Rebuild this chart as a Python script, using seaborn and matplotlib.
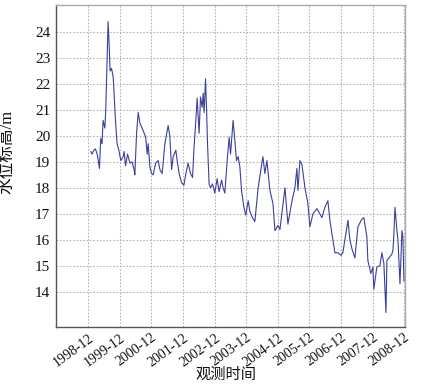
import matplotlib
matplotlib.use("Agg")
import matplotlib.pyplot as plt
import seaborn as sns
import pandas as pd

dates = [
    "1999-01-01", "1999-01-16", "1999-02-05", "1999-02-24", "1999-03-19", "1999-04-11",
    "1999-04-26", "1999-05-11", "1999-05-23", "1999-06-12", "1999-06-23", "1999-07-08",
    "1999-07-20", "1999-07-31", "1999-08-12", "1999-08-28", "1999-09-16", "1999-09-27",
    "1999-10-13", "1999-11-01", "1999-11-21", "1999-12-14", "2000-01-10", "2000-01-21",
    "2000-02-06", "2000-03-01", "2000-03-28", "2000-04-23", "2000-05-16", "2000-05-24",
    "2000-06-13", "2000-07-02", "2000-07-21", "2000-08-29", "2000-09-26", "2000-10-14",
    "2000-10-25", "2000-11-14", "2000-12-03", "2000-12-22", "2001-01-19", "2001-02-18",
    "2001-03-10", "2001-04-05", "2001-05-06", "2001-06-13", "2001-07-02", "2001-07-23",
    "2001-08-10", "2001-09-10", "2001-09-25", "2001-10-18", "2001-11-15", "2001-12-12",
    "2002-01-04", "2002-01-30", "2002-02-27", "2002-03-22", "2002-04-06", "2002-04-29",
    "2002-05-14", "2002-06-06", "2002-06-22", "2002-07-11", "2002-07-23", "2002-08-03",
    "2002-08-19", "2002-08-31", "2002-09-11", "2002-09-29", "2002-10-15", "2002-11-08",
    "2002-12-04", "2002-12-31", "2003-01-23", "2003-02-20", "2003-03-10", "2003-03-30",
    "2003-04-26", "2003-05-19", "2003-06-04", "2003-07-04", "2003-07-24", "2003-08-12",
    "2003-08-31", "2003-09-20", "2003-10-09", "2003-11-05", "2003-11-28", "2003-12-25",
    "2004-01-13", "2004-02-13", "2004-03-11", "2004-04-18", "2004-06-12", "2004-07-05",
    "2004-07-28", "2004-09-01", "2004-10-06", "2004-10-29", "2004-12-03", "2004-12-26",
    "2005-02-22", "2005-03-28", "2005-05-14", "2005-06-17", "2005-07-10", "2005-07-22",
    "2005-08-14", "2005-09-06", "2005-10-11", "2005-11-14", "2005-12-07", "2006-01-11",
    "2006-02-26", "2006-04-25", "2006-05-29", "2006-07-03", "2006-07-26", "2006-08-18",
    "2006-09-22", "2006-10-27", "2006-11-30", "2006-12-23", "2007-01-16", "2007-02-20",
    "2007-03-14", "2007-04-07", "2007-05-11", "2007-06-15", "2007-07-31", "2007-08-23",
    "2007-09-27", "2007-10-08", "2007-11-12", "2007-12-05", "2007-12-16", "2008-01-20",
    "2008-02-24", "2008-03-18", "2008-04-10", "2008-05-04", "2008-05-15", "2008-06-07",
    "2008-07-12", "2008-07-24", "2008-08-04", "2008-08-16", "2008-09-08", "2008-09-20",
    "2008-10-13", "2008-11-05", "2008-11-16", "2008-11-28",
]
levels = [
    19.4, 19.3, 19.45, 19.5, 19.25, 18.75,
    19.9, 19.7, 20.6, 20.3, 21.0, 22.9,
    24.4, 23.6, 22.5, 22.6, 22.3, 21.65,
    20.6, 19.7, 19.45, 19.05, 19.2, 19.4,
    18.85, 19.3, 18.95, 19.0, 18.7, 18.5,
    20.1, 20.9, 20.5, 20.2, 19.95, 19.3,
    19.7, 18.8, 18.55, 18.5, 18.95, 19.05,
    18.7, 18.55, 19.7, 20.4, 20.0, 18.7,
    19.2, 19.45, 19.05, 18.55, 18.2, 18.1,
    18.55, 18.95, 18.55, 18.4, 19.45, 20.6,
    21.45, 20.1, 21.5, 21.1, 21.65, 20.9,
    22.2, 21.0, 19.7, 18.15, 18.0, 18.15,
    17.8, 18.35, 17.85, 18.3, 18.0, 17.8,
    19.05, 19.95, 19.3, 20.6, 19.8, 19.05,
    19.2, 18.8, 17.9, 17.25, 16.95, 17.5,
    17.1, 16.85, 16.7, 18.0, 19.2, 18.55,
    19.05, 17.9, 17.4, 16.35, 16.55, 16.4,
    18.0, 16.6, 17.5, 18.0, 18.75, 17.9,
    19.05, 18.9, 18.0, 17.4, 16.5, 17.0,
    17.2, 16.85, 17.25, 17.5, 16.75, 16.25,
    15.5, 15.5, 15.4, 15.5, 16.0, 16.75,
    16.0, 15.65, 15.3, 16.5, 16.8, 16.85,
    16.1, 15.2, 14.7, 14.95, 14.1, 14.95,
    15.0, 15.5, 15.1, 13.2, 15.2, 15.3,
    15.45, 15.6, 16.25, 17.25, 16.35, 16.0,
    14.3, 16.35, 16.1, 14.4,
]
x_ticks = ["1998-12", "1999-12", "2000-12", "2001-12", "2002-12", "2003-12",
           "2004-12", "2005-12", "2006-12", "2007-12", "2008-12"]
y_ticks = [14, 15, 16, 17, 18, 19, 20, 21, 22, 23, 24]

df = pd.DataFrame({"date": pd.to_datetime(dates), "level": levels})

sns.set_style("white")
plt.rcParams["font.family"] = ["Liberation Serif", "Noto Sans CJK SC"]

fig = plt.figure(figsize=(4.23, 3.87), dpi=100)
ax = fig.add_axes([0.132, 0.155, 0.825, 0.832])

sns.lineplot(data=df, x="date", y="level", ax=ax, color="#3b3f9e", linewidth=0.8)

ax.set_xlim(pd.Timestamp("1997-11-23"), pd.Timestamp("2008-12-08"))
ax.set_ylim(12.64, 25.04)
ax.set_xticks(pd.to_datetime(x_ticks))
ax.set_xticklabels(x_ticks, rotation=36, ha="right", rotation_mode="anchor",
                   fontsize=10, color="#111111")
ax.set_yticks(y_ticks)
ax.set_yticklabels([str(v) for v in y_ticks], fontsize=11, color="#111111")
ax.tick_params(axis="x", length=0, pad=3)
ax.tick_params(axis="y", length=0, pad=4)

ax.grid(True, linestyle=(0, (1.5, 1.5)), color="#b5b5b5", linewidth=0.8)
for side in ["left", "bottom"]:
    ax.spines[side].set_color("#555555")
    ax.spines[side].set_linewidth(1.0)
for side in ["top", "right"]:
    ax.spines[side].set_visible(True)
    ax.spines[side].set_color("#aaaaaa")
    ax.spines[side].set_linewidth(1.0)

ax.set_xlabel("观测时间", fontsize=11, color="#111111")
ax.xaxis.set_label_coords(0.487, -0.125)
ax.set_ylabel("水位标高/m", fontsize=12, color="#111111")
ax.yaxis.set_label_coords(-0.115, 0.543)

fig.savefig("out.png", dpi=100)
